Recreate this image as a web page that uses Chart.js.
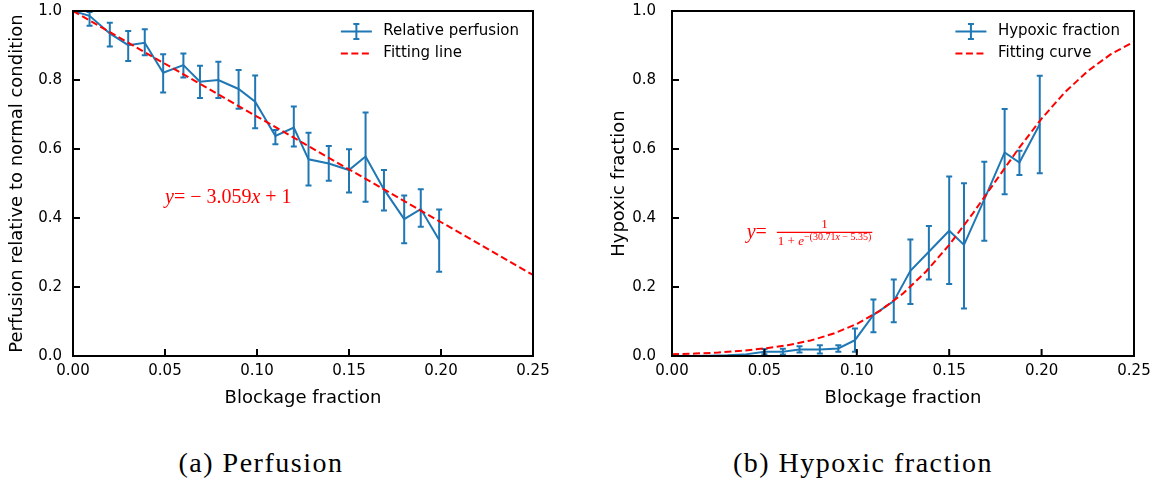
<!DOCTYPE html>
<html>
<head>
<meta charset="utf-8">
<script src="https://cdn.jsdelivr.net/npm/chart.js@4.4.0/dist/chart.umd.min.js"></script>
<style>
  body { margin: 0; background: #fff; width: 1158px; height: 481px; position: relative; overflow: hidden; }
  .box { position: absolute; top: 0; width: 579px; height: 409px; }
  .cap { position: absolute; top: 446px; font-family: 'Liberation Serif', serif; font-size: 28px; letter-spacing: 1.5px;
         line-height: 34px; transform: translateX(-50%); white-space: nowrap; color: #000; }
</style>
</head>
<body>
<div class="box" style="left:0"><canvas id="perfusion"></canvas></div>
<div class="box" style="left:579px"><canvas id="hypoxic"></canvas></div>
<div class="cap" style="left:261px">(a) Perfusion</div>
<div class="cap" style="left:863px">(b) Hypoxic fraction</div>
<script>
/* (a) perfusion */
const perfX = [0, 0.009, 0.02, 0.03, 0.039, 0.049, 0.06, 0.069, 0.079, 0.09, 0.099, 0.11, 0.12, 0.128, 0.139, 0.15, 0.159, 0.169, 0.18, 0.189, 0.199];
const perfY = [1.0, 0.986, 0.935, 0.901, 0.908, 0.821, 0.843, 0.795, 0.800, 0.774, 0.737, 0.638, 0.662, 0.570, 0.558, 0.539, 0.578, 0.483, 0.397, 0.426, 0.336];
const perfLow = [1.0, 0.957, 0.897, 0.855, 0.872, 0.764, 0.807, 0.748, 0.748, 0.717, 0.660, 0.614, 0.607, 0.494, 0.508, 0.474, 0.447, 0.422, 0.327, 0.375, 0.244];
const perfHigh = [1.0, 0.997, 0.966, 0.942, 0.947, 0.875, 0.877, 0.841, 0.853, 0.829, 0.813, 0.655, 0.723, 0.647, 0.609, 0.599, 0.706, 0.539, 0.465, 0.483, 0.425];
const lineX = [0, 0.25];
const lineY = [1.0, 0.235];

/* (b) hypoxic fraction */
const hypX = [0, 0.009, 0.02, 0.03, 0.039, 0.05, 0.06, 0.069, 0.08, 0.09, 0.099, 0.109, 0.12, 0.129, 0.139, 0.15, 0.158, 0.169, 0.18, 0.188, 0.199];
const hypY = [0, 0, 0.001, 0.002, 0.004, 0.0125, 0.0125, 0.019, 0.019, 0.022, 0.046, 0.119, 0.159, 0.247, 0.302, 0.363, 0.322, 0.454, 0.590, 0.561, 0.672];
const hypLow = [0, 0, 0.001, 0.002, 0.004, 0.005, 0.004, 0.010, 0.007, 0.012, 0.0125, 0.069, 0.098, 0.151, 0.222, 0.209, 0.138, 0.334, 0.469, 0.525, 0.530];
const hypHigh = [0, 0, 0.001, 0.002, 0.004, 0.020, 0.021, 0.028, 0.031, 0.031, 0.080, 0.164, 0.222, 0.338, 0.377, 0.520, 0.501, 0.563, 0.716, 0.595, 0.812];
const curveX = [0, 0.0125, 0.025, 0.0375, 0.05, 0.0625, 0.075, 0.0875, 0.1, 0.1125, 0.125, 0.1375, 0.15, 0.1625, 0.175, 0.1875, 0.2, 0.2125, 0.225, 0.2375, 0.25];
const curveY = [0.005, 0.007, 0.010, 0.015, 0.022, 0.031, 0.045, 0.065, 0.093, 0.131, 0.181, 0.245, 0.322, 0.411, 0.506, 0.601, 0.688, 0.764, 0.826, 0.875, 0.911];

const xTicks = ['0.00', '0.05', '0.10', '0.15', '0.20', '0.25'];
const yTicks = ['0.0', '0.2', '0.4', '0.6', '0.8', '1.0'];

const blue = '#1f77b4';
const red = '#ff0000';
const serif = '"Liberation Serif", serif';

Chart.defaults.font.family = '"DejaVu Sans", sans-serif';
Chart.defaults.color = '#000';

function pts(xs, ys) {
    return xs.map((x, i) => ({ x: x, y: ys[i] }));
}

// vertical error bars with caps, under the lines
const errorBars = {
    id: 'errorBars',
    beforeDatasetsDraw(chart) {
        const { ctx, scales: { x, y } } = chart;
        ctx.save();
        chart.data.datasets.forEach(d => {
            if (!d.errLow) return;
            ctx.strokeStyle = d.borderColor;
            ctx.lineWidth = 2;
            d.data.forEach((p, i) => {
                if (d.errLow[i] === d.errHigh[i]) return;
                const px = x.getPixelForValue(p.x);
                const top = y.getPixelForValue(d.errHigh[i]);
                const bot = y.getPixelForValue(d.errLow[i]);
                ctx.beginPath();
                ctx.moveTo(px, top); ctx.lineTo(px, bot);
                ctx.moveTo(px - 3, top); ctx.lineTo(px + 3, top);
                ctx.moveTo(px - 3, bot); ctx.lineTo(px + 3, bot);
                ctx.stroke();
            });
        });
        ctx.restore();
    }
};

// black box round the plot, ticks pointing inwards
const frame = {
    id: 'frame',
    afterDatasetsDraw(chart) {
        const { ctx, chartArea: a, scales: { x, y } } = chart;
        ctx.save();
        ctx.strokeStyle = '#000';
        ctx.lineWidth = 2;
        ctx.beginPath();
        x.ticks.forEach(t => {
            const p = x.getPixelForValue(t.value);
            ctx.moveTo(p, a.bottom); ctx.lineTo(p, a.bottom - 7);
        });
        y.ticks.forEach(t => {
            const p = y.getPixelForValue(t.value);
            ctx.moveTo(a.left, p); ctx.lineTo(a.left + 7, p);
        });
        ctx.stroke();
        ctx.strokeRect(a.left, a.top, a.right - a.left, a.bottom - a.top);
        ctx.restore();
    }
};

// legend inside the upper right corner, no frame
const cornerLegend = {
    id: 'cornerLegend',
    afterDraw(chart) {
        const { ctx, chartArea: a } = chart;
        const sets = chart.data.datasets;
        ctx.save();
        ctx.font = '15px "DejaVu Sans"';
        const w = Math.max(...sets.map(d => ctx.measureText(d.label).width));
        const tx = a.right - 14 - w;
        const x1 = tx - 11.5, x0 = x1 - 31;
        sets.forEach((d, i) => {
            const yy = a.top + 20.5 + i * 22;
            ctx.strokeStyle = d.borderColor;
            ctx.lineWidth = 2;
            ctx.setLineDash(d.borderDash || []);
            ctx.beginPath(); ctx.moveTo(x0, yy); ctx.lineTo(x1, yy); ctx.stroke();
            ctx.setLineDash([]);
            if (d.errLow) {
                const cx = (x0 + x1) / 2;
                ctx.beginPath();
                ctx.moveTo(cx, yy - 7.5); ctx.lineTo(cx, yy + 7.5);
                ctx.moveTo(cx - 3, yy - 7.5); ctx.lineTo(cx + 3, yy - 7.5);
                ctx.moveTo(cx - 3, yy + 7.5); ctx.lineTo(cx + 3, yy + 7.5);
                ctx.stroke();
            }
            ctx.fillStyle = '#000';
            ctx.textAlign = 'left';
            ctx.textBaseline = 'middle';
            ctx.fillText(d.label, tx, yy);
        });
        ctx.restore();
    }
};

function runs(ctx, x, y, parts) {
    parts.forEach(([text, font]) => {
        ctx.font = font;
        ctx.fillText(text, x, y);
        x += ctx.measureText(text).width;
    });
    return x;
}

function widthOf(ctx, parts) {
    let w = 0;
    parts.forEach(([text, font]) => { ctx.font = font; w += ctx.measureText(text).width; });
    return w;
}

const lineEquation = {
    id: 'lineEquation',
    afterDraw(chart) {
        const { ctx, scales: { x, y } } = chart;
        ctx.save();
        ctx.fillStyle = red;
        ctx.textBaseline = 'middle';
        ctx.textAlign = 'left';
        runs(ctx, x.getPixelForValue(0.05), y.getPixelForValue(0.46), [
            ['y', 'italic 20px ' + serif], ['= ', '20px ' + serif], ['\u2212 ', '20px ' + serif],
            ['3.059', '20px ' + serif], ['x', 'italic 20px ' + serif], [' + 1', '20px ' + serif]
        ]);
        ctx.restore();
    }
};

const curveEquation = {
    id: 'curveEquation',
    afterDraw(chart) {
        const { ctx, scales: { x, y } } = chart;
        const px = x.getPixelForValue(0.0404);
        const py = y.getPixelForValue(0.357);
        ctx.save();
        ctx.fillStyle = red;
        ctx.strokeStyle = red;
        ctx.textBaseline = 'middle';
        ctx.textAlign = 'left';
        const fx = runs(ctx, px, py, [['y', 'italic 20px ' + serif], ['=  ', '20px ' + serif]]);
        const base = [['1 + ', '13px ' + serif], ['e', 'italic 13px ' + serif]];
        const sup = [['\u2212(30.71', '10px ' + serif], ['x', 'italic 10px ' + serif], [' \u2212 5.35)', '10px ' + serif]];
        const dw = widthOf(ctx, base) + widthOf(ctx, sup) + 2;
        ctx.lineWidth = 1.3;
        ctx.beginPath(); ctx.moveTo(fx, py - 0.5); ctx.lineTo(fx + dw, py - 0.5); ctx.stroke();
        ctx.textAlign = 'center';
        ctx.font = '13px ' + serif;
        ctx.fillText('1', fx + dw / 2, py - 8.5);
        ctx.textAlign = 'left';
        const ex = runs(ctx, fx + 1, py + 9, base);
        runs(ctx, ex, py + 4.5, sup);
        ctx.restore();
    }
};

function axes(yTitle, yPad, titlePad, yWidth) {
    return {
        x: {
            type: 'linear', min: 0, max: 0.25,
            grid: { display: false, drawTicks: false },
            border: { display: false },
            ticks: { stepSize: 0.05, padding: 6, font: { size: 15 }, callback: (v, i) => xTicks[i] },
            title: { display: true, text: 'Blockage fraction', font: { size: 18 }, padding: { top: 0, bottom: 0 } },
            afterFit: s => { s.height = 53; }
        },
        y: {
            type: 'linear', min: 0, max: 1,
            grid: { display: false, drawTicks: false },
            border: { display: false },
            ticks: { stepSize: 0.2, padding: yPad, font: { size: 15 }, callback: (v, i) => yTicks[i] },
            title: { display: true, text: yTitle, font: { size: 18 }, padding: { top: titlePad, bottom: 0 } },
            afterFit: s => { s.width = yWidth; s.paddingTop = 0; s.paddingBottom = 0; }
        }
    };
}

const chart1 = new Chart(document.getElementById('perfusion'), {
    type: 'line',
    data: {
        datasets: [
            {
                label: 'Relative perfusion',
                data: pts(perfX, perfY),
                errLow: perfLow, errHigh: perfHigh,
                borderColor: blue, borderWidth: 2, pointRadius: 0, order: 1
            },
            {
                label: 'Fitting line',
                data: pts(lineX, lineY),
                borderColor: red, borderWidth: 2, borderDash: [7, 3.5], pointRadius: 0, order: 0
            }
        ]
    },
    options: {
        responsive: true,
        maintainAspectRatio: false,
        animation: false,
        layout: { padding: { left: 0, top: 11, right: 46, bottom: 0 } },
        plugins: { legend: { display: false }, tooltip: { enabled: false } },
        scales: axes('Perfusion relative to normal condition', 11, 7, 73)
    },
    plugins: [errorBars, frame, cornerLegend, lineEquation]
});

const chart2 = new Chart(document.getElementById('hypoxic'), {
    type: 'line',
    data: {
        datasets: [
            {
                label: 'Hypoxic fraction',
                data: pts(hypX, hypY),
                errLow: hypLow, errHigh: hypHigh,
                borderColor: blue, borderWidth: 2, pointRadius: 0, order: 1
            },
            {
                label: 'Fitting curve',
                data: pts(curveX, curveY),
                borderColor: red, borderWidth: 2, borderDash: [7, 3.5], pointRadius: 0, order: 0
            }
        ]
    },
    options: {
        responsive: true,
        maintainAspectRatio: false,
        animation: false,
        layout: { padding: { left: 0, top: 11, right: 24, bottom: 0 } },
        plugins: { legend: { display: false }, tooltip: { enabled: false } },
        scales: axes('Hypoxic fraction', 16, 30, 93)
    },
    plugins: [errorBars, frame, cornerLegend, curveEquation]
});
</script>
</body>
</html>
